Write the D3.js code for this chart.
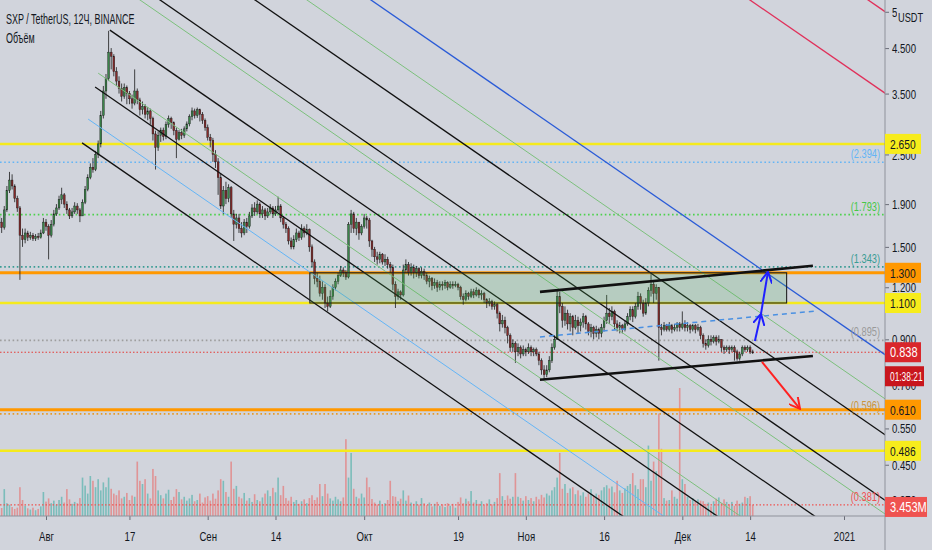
<!DOCTYPE html>
<html>
<head>
<meta charset="utf-8">
<script src="https://cdn.jsdelivr.net/npm/d3@7"></script>
<style>
  html, body { margin: 0; padding: 0; background: #d1d4dc; }
  svg { display: block; font-family: "Liberation Sans", Arial, sans-serif; }
</style>
</head>
<body>
<div id="chart"></div>
<script>
// ---- data (12h candles, SXP/USDT) ----
const firstCandle = "2020-07-23T00:00";
const firstOpen = 1.78;
const closes = [
  1.72,1.67,1.84,2.05,2.17,2.10,1.96,1.86,1.60,1.56,
  1.62,1.58,1.60,1.57,1.59,1.58,1.62,1.72,1.68,1.60,
  1.70,1.80,1.86,1.95,2.00,1.90,1.84,1.78,1.82,1.88,
  1.84,1.78,1.92,2.06,2.20,2.33,2.30,2.50,2.65,3.10,
  3.55,3.80,4.40,4.30,3.95,3.75,3.60,3.45,3.62,3.50,
  3.40,3.32,3.55,3.38,3.20,3.26,3.12,3.18,3.05,2.80,
  2.60,2.78,2.86,2.76,2.95,3.05,2.98,2.85,2.72,2.82,
  2.78,2.88,2.96,3.08,3.18,3.10,3.20,3.12,3.02,2.90,
  2.75,2.70,2.50,2.40,2.20,1.88,2.05,1.96,2.08,1.80,
  1.70,1.76,1.66,1.62,1.72,1.68,1.78,1.86,1.82,1.90,
  1.80,1.84,1.78,1.82,1.86,1.80,1.84,1.88,1.76,1.70,
  1.66,1.55,1.50,1.56,1.62,1.58,1.66,1.62,1.65,1.50,
  1.38,1.26,1.24,1.16,1.20,1.10,1.08,1.14,1.20,1.24,
  1.28,1.32,1.30,1.27,1.70,1.80,1.66,1.72,1.62,1.68,
  1.76,1.74,1.55,1.48,1.42,1.40,1.44,1.38,1.40,1.36,
  1.34,1.22,1.14,1.17,1.15,1.32,1.36,1.30,1.34,1.30,
  1.33,1.28,1.31,1.28,1.24,1.26,1.21,1.23,1.20,1.22,
  1.21,1.23,1.20,1.22,1.21,1.22,1.20,1.14,1.12,1.16,
  1.14,1.17,1.15,1.18,1.15,1.16,1.12,1.10,1.11,1.08,
  1.09,1.04,0.98,1.00,0.96,0.92,0.86,0.88,0.84,0.86,
  0.83,0.85,0.84,0.86,0.84,0.85,0.83,0.80,0.76,0.74,
  0.76,0.80,0.86,0.90,1.14,1.08,1.00,1.04,0.98,1.02,
  0.96,1.00,0.97,0.99,1.02,0.98,0.94,0.96,0.93,0.95,
  0.93,0.96,1.00,1.04,1.02,1.05,0.98,0.96,0.97,0.95,
  0.98,1.02,1.06,1.02,1.08,1.14,1.10,1.04,1.10,1.18,
  1.22,1.16,1.20,0.96,0.95,0.97,0.95,0.97,0.95,0.96,
  0.98,0.96,0.98,0.96,0.97,0.95,0.97,0.95,0.96,0.92,
  0.88,0.87,0.90,0.89,0.91,0.89,0.90,0.86,0.85,0.86,
  0.85,0.86,0.84,0.81,0.83,0.86,0.85,0.86,0.84,0.838
];
const highs = [
  1.80,1.76,1.88,2.10,2.27,2.24,2.12,1.99,1.88,1.66,
  1.66,1.64,1.63,1.62,1.61,1.62,1.65,1.76,1.75,1.70,
  1.74,1.84,1.90,1.99,2.08,2.02,1.93,1.86,1.86,1.92,
  1.91,1.86,1.95,2.10,2.24,2.38,2.45,2.55,2.70,3.18,
  3.65,3.90,4.95,4.50,4.35,4.05,3.85,3.70,3.70,3.66,
  3.55,3.48,4.00,3.60,3.42,3.35,3.30,3.25,3.22,3.08,
  2.85,2.84,2.90,2.90,3.00,3.10,3.08,3.00,2.90,2.86,
  2.88,2.92,3.00,3.12,3.24,3.22,3.24,3.22,3.16,3.05,
  2.95,2.80,2.74,2.56,2.45,2.25,2.10,2.15,2.12,2.10,
  1.84,1.80,1.80,1.72,1.75,1.76,1.82,1.90,1.92,1.94,
  1.92,1.88,1.86,1.86,1.90,1.88,1.88,1.98,1.90,1.78,
  1.72,1.68,1.58,1.60,1.66,1.64,1.70,1.68,1.70,1.66,
  1.52,1.40,1.30,1.28,1.24,1.22,1.14,1.18,1.22,1.26,
  1.30,1.35,1.34,1.32,1.72,1.84,1.82,1.76,1.72,1.70,
  1.80,1.78,1.76,1.56,1.50,1.46,1.46,1.45,1.44,1.42,
  1.38,1.36,1.24,1.19,1.18,1.36,1.40,1.38,1.37,1.36,
  1.35,1.34,1.34,1.33,1.30,1.28,1.27,1.26,1.25,1.24,
  1.24,1.25,1.24,1.24,1.24,1.24,1.23,1.21,1.16,1.18,
  1.17,1.19,1.19,1.20,1.19,1.18,1.17,1.13,1.13,1.12,
  1.11,1.10,1.05,1.03,1.02,0.97,0.93,0.90,0.89,0.88,
  0.87,0.87,0.86,0.88,0.87,0.86,0.86,0.84,0.81,0.78,
  0.78,0.82,0.88,0.92,1.18,1.17,1.10,1.08,1.06,1.04,
  1.03,1.03,1.02,1.01,1.04,1.03,0.99,0.98,0.97,0.97,
  0.96,0.98,1.02,1.15,1.07,1.08,1.06,1.00,0.99,0.98,
  1.00,1.04,1.08,1.08,1.10,1.17,1.16,1.12,1.13,1.20,
  1.29,1.24,1.22,1.20,0.98,0.99,0.98,0.99,0.98,0.98,
  0.99,0.99,1.05,1.00,0.99,0.98,0.98,0.98,0.98,0.97,
  0.93,0.90,0.92,0.92,0.92,0.92,0.92,0.90,0.87,0.87,
  0.87,0.87,0.87,0.85,0.84,0.87,0.87,0.87,0.87,0.85
];
const lows = [
  1.66,1.62,1.65,1.82,2.02,2.06,1.92,1.82,1.25,1.50,
  1.53,1.55,1.56,1.55,1.55,1.56,1.57,1.61,1.64,1.40,
  1.58,1.68,1.78,1.84,1.90,1.86,1.80,1.75,1.76,1.80,
  1.80,1.72,1.78,1.90,2.04,2.18,2.26,2.28,2.45,2.60,
  3.05,3.40,3.75,4.00,3.85,3.65,3.50,3.35,3.40,3.30,
  3.30,3.22,3.28,3.30,3.10,3.12,3.05,3.02,2.95,2.70,
  2.30,2.55,2.68,2.70,2.72,2.90,2.88,2.78,2.45,2.70,
  2.72,2.74,2.84,2.92,3.02,3.05,3.06,3.00,2.96,2.85,
  2.70,2.60,2.40,2.32,2.00,1.85,1.80,1.90,1.92,1.76,
  1.55,1.66,1.62,1.58,1.60,1.62,1.66,1.76,1.78,1.80,
  1.76,1.76,1.74,1.76,1.80,1.76,1.78,1.82,1.72,1.66,
  1.62,1.52,1.48,1.48,1.54,1.55,1.56,1.58,1.60,1.46,
  1.34,1.22,1.20,1.14,1.12,1.07,1.05,1.07,1.12,1.18,
  1.22,1.27,1.27,1.25,1.26,1.62,1.62,1.60,1.56,1.60,
  1.66,1.66,1.50,1.42,1.38,1.36,1.37,1.36,1.35,1.33,
  1.30,1.18,1.07,1.12,1.12,1.14,1.30,1.28,1.28,1.26,
  1.27,1.26,1.26,1.25,1.22,1.20,1.18,1.19,1.17,1.18,
  1.18,1.19,1.18,1.19,1.19,1.20,1.18,1.12,1.09,1.11,
  1.12,1.13,1.13,1.14,1.13,1.12,1.10,1.07,1.08,1.06,
  1.06,1.01,0.94,0.96,0.93,0.88,0.84,0.84,0.79,0.82,
  0.81,0.82,0.82,0.83,0.82,0.82,0.82,0.78,0.74,0.72,
  0.73,0.75,0.79,0.85,0.90,1.04,0.96,0.97,0.95,0.94,
  0.92,0.95,0.93,0.94,0.96,0.95,0.92,0.91,0.90,0.91,
  0.90,0.91,0.94,0.98,0.98,1.00,0.95,0.94,0.93,0.93,
  0.94,0.97,1.00,0.99,1.01,1.06,1.06,1.02,1.03,1.08,
  1.14,1.10,1.12,0.80,0.92,0.94,0.94,0.94,0.93,0.94,
  0.94,0.94,0.95,0.94,0.94,0.93,0.94,0.93,0.94,0.90,
  0.86,0.85,0.86,0.87,0.88,0.87,0.88,0.84,0.83,0.84,
  0.83,0.84,0.80,0.80,0.80,0.82,0.84,0.84,0.83,0.83
];
// volume, millions
const volumes = [
  3.0,2.5,8.4,4.0,3.5,2.8,2.2,2.6,9.0,5.0,
  3.2,2.4,2.0,2.6,1.8,2.2,3.0,7.5,4.5,5.5,
  4.0,4.8,3.6,5.0,6.0,4.2,8.4,5.2,3.8,4.4,
  4.0,5.6,12.0,9.5,7.0,12.5,11.0,9.0,11.5,8.0,
  10.5,9.0,12.0,8.5,7.0,6.5,8.0,5.5,6.0,7.2,
  5.0,6.4,6.0,17.0,11.0,10.0,11.5,7.0,5.5,14.7,
  12.5,8.0,6.5,5.5,7.0,8.2,5.0,6.0,8.4,7.5,
  5.2,6.0,4.8,5.5,6.6,4.6,5.0,7.0,4.2,5.8,
  6.2,4.8,7.0,5.4,8.0,11.5,11.0,7.5,6.0,17.0,
  8.5,9.4,6.0,5.5,7.2,4.8,5.6,4.4,6.8,5.0,
  4.6,5.8,7.0,8.0,6.2,8.8,7.4,12.0,6.5,9.4,
  5.6,4.8,6.0,4.4,5.0,3.8,4.6,5.2,4.0,5.6,
  6.5,5.0,5.8,10.0,6.2,10.0,7.0,5.5,4.8,6.0,
  5.2,4.6,5.8,24.0,12.0,19.7,8.5,6.0,5.5,7.0,
  5.8,12.0,9.0,5.3,4.2,3.6,4.8,3.4,4.0,5.0,
  11.0,6.2,6.0,4.6,5.4,8.0,4.8,6.4,4.2,3.8,
  4.6,3.6,5.6,4.0,3.4,4.2,3.0,3.8,4.4,3.2,
  3.6,2.8,4.0,3.2,3.8,2.6,4.4,5.8,4.0,5.4,
  4.6,7.8,4.2,5.0,3.8,4.6,3.4,4.0,5.2,3.6,
  4.4,5.6,13.4,6.2,5.0,6.4,5.4,6.0,13.4,6.0,
  5.6,4.8,6.2,5.0,5.6,4.6,6.0,5.2,6.6,5.8,
  7.0,6.4,8.0,9.0,12.0,19.7,8.5,10.0,7.2,8.6,
  9.0,6.8,8.0,6.4,7.4,6.0,7.0,8.4,6.2,7.0,
  6.6,8.0,9.0,9.6,8.6,9.2,7.4,11.0,8.0,7.2,
  8.6,9.4,10.0,13.4,9.6,8.4,11.5,11.5,9.0,22.0,
  11.0,17.0,14.0,32.0,21.0,5.6,4.8,5.0,8.0,6.0,
  5.4,40.0,11.5,10.0,6.0,5.0,5.6,4.6,5.2,4.8,
  4.6,3.8,4.2,3.0,4.6,5.4,5.8,4.0,5.2,4.4,
  3.6,4.4,3.2,4.8,3.8,4.2,6.0,5.6,6.2,3.453
];

const priceTicks = [5.5, 4.5, 3.5, 2.5, 1.9, 1.5, 1.2, 0.9, 0.7, 0.55, 0.45, 0.37];
const timeTicks = ["2020-08-01","2020-08-17","2020-09-01","2020-09-14","2020-10-01","2020-10-19",
                   "2020-11-01","2020-11-16","2020-12-01","2020-12-14","2021-01-01"];
const timeLabels = ["Авг","17","Сен","14","Окт","19","Ноя","16","Дек","14","2021"];

// horizontal levels
const yellowLevels = [2.65, 1.1, 0.486];
const orangeLevels = [1.3, 0.61];
const fibLevels = [2.394, 1.793, 1.343, 0.895, 0.596];
const fibTexts = ["(2.394)", "(1.793)", "(1.343)", "(0.895)", "(0.596)"];
const lastPrice = 0.838;
const lastVolume = 3.453;
const countdown = "01:38:21";

// drawings: anchor pairs [time, price]
const blackRays = [
  [["2020-08-13T06:00", 4.97], ["2020-12-01T00:00", 0.561]],
  [["2020-08-01T00:00", 9.07], ["2020-12-01T00:00", 0.801]],
  [["2020-08-01T00:00", 13.03], ["2020-12-01T00:00", 1.151]],
  [["2020-08-10T10:00", 3.63], ["2020-12-01T00:00", 0.387]],
  [["2020-08-07T22:00", 2.665], ["2020-12-01T00:00", 0.270]]
];
const greenRays = [
  [["2020-08-11T00:00", 3.918], ["2020-12-01T00:00", 0.4226]],
  [["2020-08-01T00:00", 8.40], ["2020-12-01T00:00", 0.7425]],
  [["2020-08-01T00:00", 15.88], ["2020-12-01T00:00", 1.403]]
];
const lightBlueRays = [[["2020-08-09T02:00", 3.039], ["2020-12-01T00:00", 0.3155]]];
const blueRays = [[["2020-08-01T00:00", 20.27], ["2020-12-01T00:00", 1.791]]];
const redRays = [
  [["2020-12-01T00:00", 7.596], ["2021-01-01T00:00", 4.102]],
  [["2020-12-01T00:00", 11.92], ["2021-01-01T00:00", 6.436]]
];
const zoneTime = ["2020-09-20T14:00", "2020-12-21T00:00"];
const zonePrice = [1.1, 1.3];
const upperTrend = [["2020-11-03T17:00", 1.17], ["2020-12-26T01:00", 1.351]];
const lowerTrend = [["2020-11-03T17:00", 0.72], ["2020-12-26T01:00", 0.821]];
const midTrend = [["2020-11-03T17:00", 0.912], ["2020-12-26T19:00", 1.053]];
const upArrow = [["2020-12-14T22:00", 0.892], ["2020-12-16T02:00", 1.036], ["2020-12-17T10:00", 1.307]];
const downArrow = [["2020-12-16T06:30", 0.795], ["2020-12-23T13:30", 0.613]];

// ---- layout ----
const width = 932, height = 550;
const plotRight = 885, plotBottom = 516;
const bg = "#d1d4dc";
const ink = "#131722";
const squeeze = 0.74; // the reference type is condensed

const parse = s => new Date(s);
const x = d3.scaleTime()
  .domain([parse("2020-08-01T00:00"), parse("2021-01-01T00:00")])
  .range([46, 844]);
const y = d3.scaleLog().domain([0.339, 5.87]).range([plotBottom, 0]);
const yVol = d3.scaleLinear().domain([0, 40]).range([plotBottom, 388]);

const t0 = parse(firstCandle);
const candles = closes.map((c, i) => ({
  t: d3.timeHour.offset(t0, 12 * i),
  o: i ? closes[i - 1] : firstOpen,
  h: highs[i], l: lows[i], c, v: volumes[i]
}));

const svg = d3.select("#chart").append("svg")
  .attr("width", width).attr("height", height)
  .attr("viewBox", [0, 0, width, height]);
svg.append("rect").attr("width", width).attr("height", height).attr("fill", bg);

// text helper: condensed glyphs via horizontal scale
function label(parent, tx, ty, text, size, fill, anchor, sx) {
  return parent.append("text")
    .attr("transform", `translate(${tx},${ty}) scale(${sx || squeeze},1)`)
    .attr("text-anchor", anchor || "start")
    .attr("font-size", size).attr("fill", fill)
    .text(text);
}

svg.append("clipPath").attr("id", "plot")
  .append("rect").attr("width", plotRight).attr("height", plotBottom);
const plot = svg.append("g").attr("clip-path", "url(#plot)");

// volume
plot.append("g").selectAll("rect").data(candles).join("rect")
  .attr("x", d => x(d.t) - 0.8)
  .attr("width", 1.6)
  .attr("y", d => yVol(d.v))
  .attr("height", d => plotBottom - yVol(d.v))
  .attr("fill", d => d.c >= d.o ? "rgba(38,166,154,0.5)" : "rgba(239,83,80,0.5)");

plot.append("line")
  .attr("x1", 0).attr("x2", plotRight)
  .attr("y1", yVol(lastVolume)).attr("y2", yVol(lastVolume))
  .attr("stroke", "#ef5350").attr("stroke-width", 1.2).attr("stroke-dasharray", "1.5,2");

// horizontal levels
function hline(p, color, w, dash) {
  plot.append("line")
    .attr("x1", 0).attr("x2", plotRight)
    .attr("y1", y(p)).attr("y2", y(p))
    .attr("stroke", color).attr("stroke-width", w)
    .attr("stroke-dasharray", dash || null);
}
const fibColors = ["#64b5f6", "#4cd14c", "#3a9c94", "#9e9e9e", "#e69b2a"];
const fibTextColors = ["#64b5f6", "#46c846", "#3a9c94", "#9a9a9a", "#c9953c"];
fibLevels.forEach((p, i) => hline(p, fibColors[i], 1.6, "1.6,2.6"));
orangeLevels.forEach(p => hline(p, "#ff9800", 3));
yellowLevels.forEach(p => hline(p, "#f5ea1c", 2.5));
hline(lastPrice, "#e53935", 1, "1.5,2");

// candles
const cg = plot.append("g");
cg.selectAll("line").data(candles).join("line")
  .attr("x1", d => x(d.t)).attr("x2", d => x(d.t))
  .attr("y1", d => y(Math.max(d.h, d.o, d.c)))
  .attr("y2", d => y(Math.min(d.l, d.o, d.c)))
  .attr("stroke", "#1a1a1a").attr("stroke-width", 0.8);
cg.selectAll("rect").data(candles).join("rect")
  .attr("x", d => x(d.t) - 0.9)
  .attr("width", 1.8)
  .attr("y", d => y(Math.max(d.o, d.c)))
  .attr("height", d => Math.max(1, y(Math.min(d.o, d.c)) - y(Math.max(d.o, d.c))))
  .attr("fill", d => d.c >= d.o ? "#3a8549" : "#862a2a")
  .attr("stroke", "#1a1a1a").attr("stroke-width", 0.4);

// drawings
const px = a => [x(parse(a[0])), y(a[1])];
function ray(pair, color, w) {
  const [x1, y1] = px(pair[0]);
  const [x2, y2] = px(pair[1]);
  const m = (y2 - y1) / (x2 - x1);
  const xe = plotRight + 20;
  plot.append("line")
    .attr("x1", x1).attr("y1", y1)
    .attr("x2", xe).attr("y2", y1 + m * (xe - x1))
    .attr("stroke", color).attr("stroke-width", w);
}
greenRays.forEach(r => ray(r, "#7cc07c", 1));
lightBlueRays.forEach(r => ray(r, "#64b5f6", 1));
blueRays.forEach(r => ray(r, "#2a5bd7", 1.3));
redRays.forEach(r => ray(r, "#e0305a", 1.3));
blackRays.forEach(r => ray(r, "#111", 1.3));

// zone box
plot.append("rect")
  .attr("x", x(parse(zoneTime[0])))
  .attr("width", x(parse(zoneTime[1])) - x(parse(zoneTime[0])))
  .attr("y", y(zonePrice[1]))
  .attr("height", y(zonePrice[0]) - y(zonePrice[1]))
  .attr("fill", "rgba(76,175,80,0.2)")
  .attr("stroke", "#222").attr("stroke-width", 1.1);

const line = d3.line().x(d => px(d)[0]).y(d => px(d)[1]);
plot.append("path").attr("d", line(midTrend))
  .attr("fill", "none").attr("stroke", "#4a90e2").attr("stroke-width", 1.5).attr("stroke-dasharray", "5,4");
[upperTrend, lowerTrend].forEach(t => plot.append("path").attr("d", line(t))
  .attr("fill", "none").attr("stroke", "#111").attr("stroke-width", 2.6));

// arrows
const defs = svg.append("defs");
function marker(id, color) {
  defs.append("marker").attr("id", id)
    .attr("viewBox", "0 0 12 12").attr("refX", 11).attr("refY", 6)
    .attr("markerWidth", 12).attr("markerHeight", 12)
    .attr("markerUnits", "userSpaceOnUse").attr("orient", "auto")
    .append("path").attr("d", "M0,0L11,6L0,12")
    .attr("fill", "none").attr("stroke", color).attr("stroke-width", 2);
}
marker("headBlue", "#1f1fff");
marker("headRed", "#ff2121");
d3.pairs(upArrow).forEach(seg => plot.append("path").attr("d", line(seg))
  .attr("fill", "none").attr("stroke", "#1f1fff").attr("stroke-width", 2)
  .attr("marker-end", "url(#headBlue)"));
plot.append("path").attr("d", line(downArrow))
  .attr("fill", "none").attr("stroke", "#ff2121").attr("stroke-width", 2)
  .attr("marker-end", "url(#headRed)");

// fib labels
fibLevels.forEach((p, i) =>
  label(plot, plotRight - 5, y(p) - 4, fibTexts[i], 12.5, fibTextColors[i], "end"));
label(plot, plotRight - 5, yVol(lastVolume) - 4, "(0.381)", 12.5, "#f05050", "end");

// ---- axes ----
const yAxis = svg.append("g")
  .attr("transform", `translate(${plotRight},0)`)
  .call(d3.axisRight(y).tickValues(priceTicks).tickFormat(d3.format(".3f")).tickSize(4));
yAxis.select(".domain").remove();
yAxis.selectAll("line").attr("stroke", "#6a6d78");
yAxis.selectAll("text")
  .attr("x", null).attr("dy", "0.35em")
  .attr("transform", `translate(7,0) scale(${squeeze},1)`)
  .attr("font-size", 13).attr("fill", ink).attr("font-family", null);

const xAxis = svg.append("g")
  .attr("transform", `translate(0,${plotBottom})`)
  .call(d3.axisBottom(x).tickValues(timeTicks.map(parse)).tickFormat((d, i) => timeLabels[i]).tickSize(4));
xAxis.select(".domain").remove();
xAxis.selectAll("line").attr("stroke", "#6a6d78");
xAxis.selectAll("text")
  .attr("y", null).attr("dy", "0.35em")
  .attr("transform", `translate(0,20) scale(${squeeze},1)`)
  .attr("font-size", 13).attr("fill", ink).attr("font-family", null);

svg.append("line").attr("x1", 0).attr("x2", plotRight).attr("y1", plotBottom).attr("y2", plotBottom)
  .attr("stroke", "#8f929b").attr("stroke-width", 1);
svg.append("line").attr("x1", plotRight).attr("x2", plotRight).attr("y1", 0).attr("y2", height)
  .attr("stroke", "#8f929b").attr("stroke-width", 1);

// currency tag over the top tick
svg.append("rect").attr("x", 897).attr("y", 8).attr("width", 34).attr("height", 16).attr("fill", bg);
label(svg, 898, 22, "USDT", 12.5, ink);

// price tags
const tags = svg.append("g");
function tag(yc, text, fill, color, w, size, sx) {
  tags.append("rect").attr("x", plotRight).attr("y", yc - 10).attr("width", w || 36).attr("height", 20).attr("fill", fill);
  label(tags, plotRight + 5, yc + 5, text, size || 13.5, color, "start", sx || 0.76);
}
yellowLevels.forEach(p => tag(y(p), d3.format(".3f")(p), "#f7ec1c", ink));
orangeLevels.forEach(p => tag(y(p), d3.format(".3f")(p), "#ff9800", ink));
tag(y(lastPrice), d3.format(".3f")(lastPrice), "#d9262b", "#fff", 36, 14.5);
tag(y(lastPrice) + 24, countdown, "#c8161d", "#fff", 39, 13.5, 0.62);
tag(yVol(lastVolume) + 2, lastVolume + "M", "#ef5350", "#fff", 42, 14.5);

// legend
label(svg, 6, 24, "SXP / TetherUS, 12Ч, BINANCE", 14.5, ink, "start", 0.62);
label(svg, 6, 43, "Объём", 14.5, ink, "start", 0.62);
</script>
</body>
</html>
